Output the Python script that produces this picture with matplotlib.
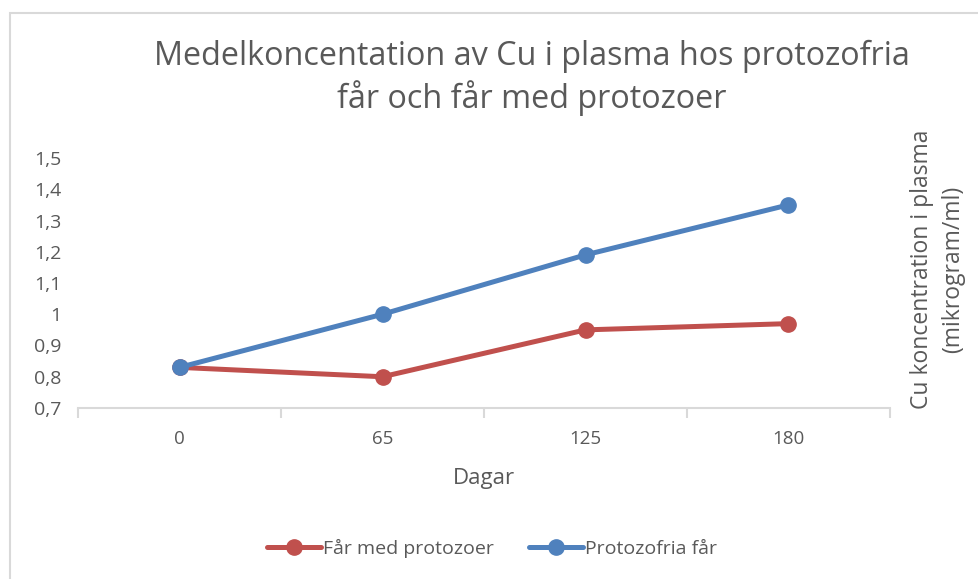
import numpy as np
import matplotlib.pyplot as plt
import matplotlib.patches as patches
from matplotlib.ticker import FuncFormatter

# data
dagar = ['0', '65', '125', '180']
med_protozoer = [0.83, 0.80, 0.95, 0.97]
protozofria = [0.83, 1.00, 1.19, 1.35]
yticks = [0.7, 0.8, 0.9, 1.0, 1.1, 1.2, 1.3, 1.4, 1.5]

grey = '#595959'
plt.rcParams['font.family'] = ['Open Sans', 'DejaVu Sans']

fig = plt.figure(figsize=(9.79, 5.79), dpi=100)
# chart border (light grey, like the excel chart area)
fig.patches.append(patches.Rectangle((9.5 / 979, -0.01), 1.0, 1 - 13.5 / 579 + 0.01,
                                     transform=fig.transFigure, fill=False,
                                     edgecolor='#d9d9d9', linewidth=1.5))

ax = fig.add_axes([78 / 979, 1 - 408 / 579, (890 - 78) / 979, (408 - 158) / 579])
x = np.arange(len(dagar))
ax.plot(x, med_protozoer, color='#C0504D', lw=3.6, marker='o', ms=11,
        label='Får med protozoer', solid_capstyle='round')
ax.plot(x, protozofria, color='#4F81BD', lw=3.6, marker='o', ms=11,
        label='Protozofria får', solid_capstyle='round')

ax.set_xlim(-0.5, 3.5)
ax.set_ylim(0.7, 1.5)
ax.set_yticks(yticks)
ax.yaxis.set_major_formatter(FuncFormatter(lambda v, p: ('%g' % round(v, 1)).replace('.', ',')))
ax.set_xticks(x)
ax.set_xticklabels(dagar)
ax.set_xticks(np.arange(-0.5, 4, 1), minor=True)
ax.tick_params(axis='x', which='major', length=0, pad=16, labelsize=13.5, labelcolor=grey)
ax.tick_params(axis='x', which='minor', length=7, color='#d9d9d9', width=1.5)
ax.tick_params(axis='y', length=0, pad=12, labelsize=14, labelcolor=grey)

for s in ['top', 'right', 'left']:
    ax.spines[s].set_visible(False)
ax.spines['bottom'].set_color('#d9d9d9')
ax.spines['bottom'].set_linewidth(1.5)

ax.set_xlabel('Dagar', fontsize=16, color=grey, labelpad=14)

fig.text(532 / 979, 1 - 78 / 579,
         'Medelkoncentation av Cu i plasma hos protozofria\nfår och får med protozoer',
         ha='center', va='center', fontsize=23.3, color=grey, linespacing=1.25)

fig.text(937.5 / 979, 1 - 269 / 579, 'Cu koncentration i plasma\n(mikrogram/ml)',
         rotation=90, ha='center', va='center', fontsize=16.5, color=grey,
         multialignment='center', linespacing=1.35)

fig.legend(loc='center', bbox_to_anchor=(492 / 979, 1 - 548 / 579), ncol=2,
           frameon=False, fontsize=14, labelcolor=grey, handlelength=2.8,
           handletextpad=0.1, columnspacing=1.8)

fig.savefig('out.png', dpi=100)
